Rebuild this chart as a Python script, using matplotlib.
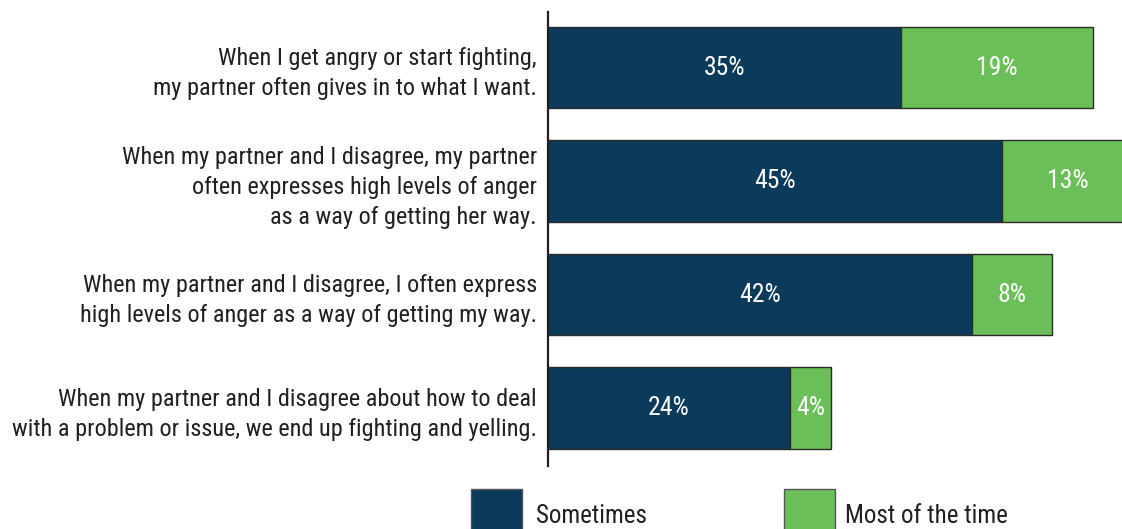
import matplotlib
matplotlib.use("Agg")
import matplotlib.pyplot as plt
from matplotlib.patches import Rectangle

# data
labels = [
    "When I get angry or start fighting,\nmy partner often gives in to what I want.",
    "When my partner and I disagree, my partner\noften expresses high levels of anger\nas a way of getting her way.",
    "When my partner and I disagree, I often express\nhigh levels of anger as a way of getting my way.",
    "When my partner and I disagree about how to deal\nwith a problem or issue, we end up fighting and yelling.",
]
sometimes = [35, 45, 42, 24]
most_of_time = [19, 13, 8, 4]
series_names = ["Sometimes", "Most of the time"]

navy = "#0b3a5b"
green = "#6bbf59"
edge = "#2b2b2b"
fam = ["Roboto Condensed", "Roboto", "DejaVu Sans"]

fig = plt.figure(figsize=(11.22, 5.29), dpi=100)
ax = fig.add_axes([0.4884, 0.1191, 0.5116, 0.8582])

ypos = list(range(len(labels)))
b1 = ax.barh(ypos, sometimes, height=0.72, color=navy, edgecolor=edge, linewidth=1)
b2 = ax.barh(ypos, most_of_time, left=sometimes, height=0.72, color=green,
             edgecolor=edge, linewidth=1)

for i in ypos:
    ax.text(sometimes[i] / 2, i, f"{sometimes[i]}%", color="white", ha="center",
            va="center", fontsize=18.5, family=fam)
    ax.text(sometimes[i] + most_of_time[i] / 2, i, f"{most_of_time[i]}%", color="white",
            ha="center", va="center", fontsize=18.5, family=fam)

ax.set_xlim(0, 56.89)
ax.set_ylim(3.51, -0.49)
ax.set_yticks(ypos)
ax.set_yticklabels(labels, fontsize=17.5, family=fam, color="#231f20", linespacing=1.4)
ax.tick_params(axis="y", length=0, pad=8)
ax.set_xticks([])
for s in ["top", "right", "bottom"]:
    ax.spines[s].set_visible(False)
ax.spines["left"].set_color("#231f20")
ax.spines["left"].set_linewidth(1.6)

# legend
for x0, tx, name, col in [(0.4198, 0.4777, series_names[0], navy),
                          (0.6988, 0.7531, series_names[1], green)]:
    fig.add_artist(Rectangle((x0, -0.02), 0.04545, 0.0964, transform=fig.transFigure,
                             facecolor=col, edgecolor="#555555", linewidth=1))
    fig.text(tx, 0.0246, name, fontsize=18, family=fam, color="#231f20", va="center")

fig.savefig("out.png", dpi=100)
